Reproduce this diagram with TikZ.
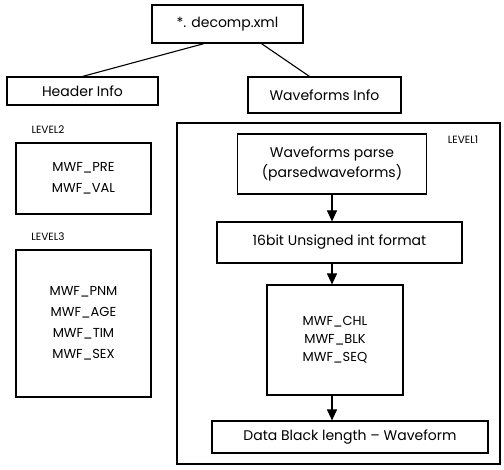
\documentclass[tikz,border=0pt]{standalone}
\usepackage{fontspec}
\setmainfont{Poppins}
\usetikzlibrary{arrows.meta}

\begin{document}
\begin{tikzpicture}[x=1pt, y=-1pt, >={Triangle[length=11pt,width=10pt]}, line width=1.1pt,
        box/.style={draw, rectangle, align=center, inner sep=0pt, font=\fontsize{14}{20}\selectfont},
        fields/.style={box, font=\fontsize{13}{21}\selectfont},
        tag/.style={font=\fontsize{10.5}{12}\selectfont}]
        \useasboundingbox (0,0) rectangle (504,470);

        % Frame round the waveform steps
        \node[draw, minimum width=323pt, minimum height=341pt] (level1) at (338.5,293.5) {};
        \node[tag] (lvlone) at (463,140) {LEVEL1};

        % Nodes for the file tree
        \node[box, minimum width=151pt, minimum height=38pt] (xml) at (227.5,24) {*. decomp.xml};
        \node[box, minimum width=151pt, minimum height=28pt] (header) at (82.5,91) {Header Info};
        \node[box, minimum width=153pt, minimum height=36pt] (wave) at (324.5,95) {Waveforms Info};

        % Header fields
        \node[tag] (lvltwo) at (48,130) {LEVEL2};
        \node[fields, minimum width=135pt, minimum height=71pt] (pre) at (83.5,178.5) {MWF\_PRE\\MWF\_VAL};
        \node[tag] (lvlthree) at (48,237) {LEVEL3};
        \node[fields, minimum width=135pt, minimum height=147pt] (pnm) at (83.5,323.5) {MWF\_PNM\\MWF\_AGE\\MWF\_TIM\\MWF\_SEX};

        % Waveform steps
        \node[box, minimum width=189pt, minimum height=60pt] (parse) at (332,164) {Waveforms parse\\(parsedwaveforms)};
        \node[box, minimum width=245pt, minimum height=41pt] (fmt) at (339.5,242.5) {16bit Unsigned int format};
        \node[fields, minimum width=136pt, minimum height=110pt, font=\fontsize{13}{18}\selectfont] (chl) at (335,340) {MWF\_CHL\\MWF\_BLK\\MWF\_SEQ};
        \node[box, minimum width=276pt, minimum height=32pt] (data) at (350,437) {Data Black length -- Waveform};

        % Edges
        \draw (xml.-140) -- (header.north);
        \draw (xml.-30) -- (wave.129);
        \draw[->] (parse.south) -- (parse.south |- fmt.north);
        \draw[->] (fmt.south -| parse) -- (chl.north -| parse);
        \draw[->] (chl.south -| parse) -- (data.north -| parse);
    \end{tikzpicture}
\end{document}
